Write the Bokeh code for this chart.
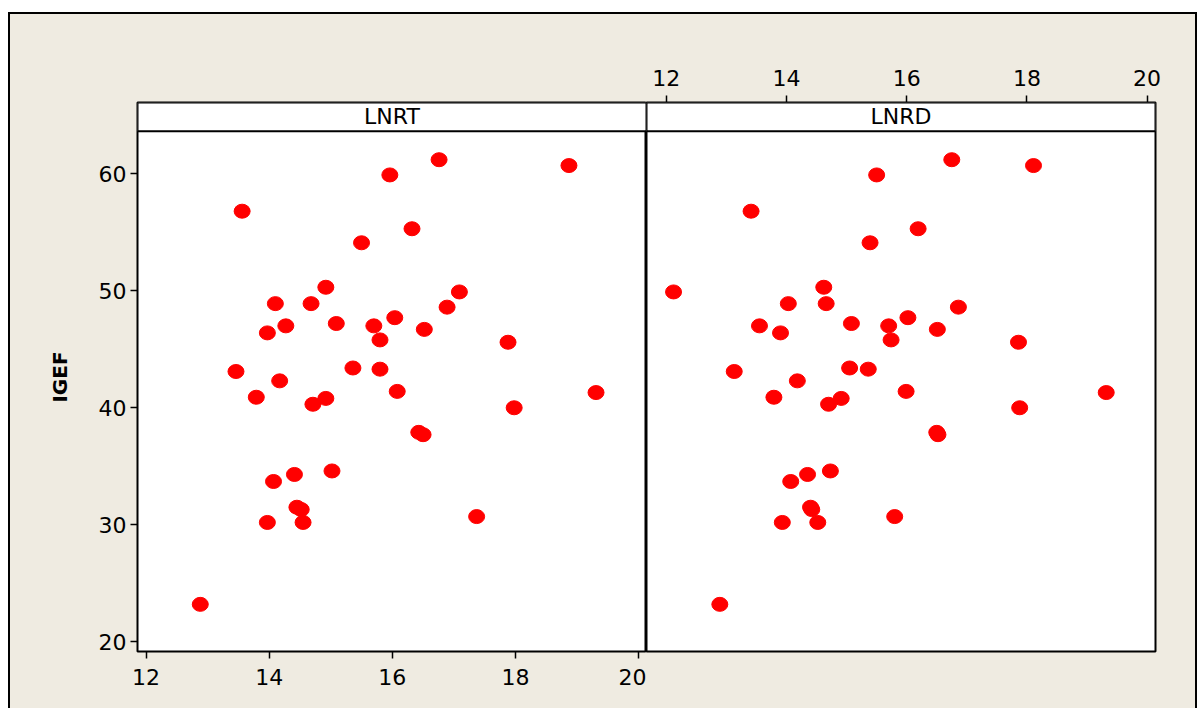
from bokeh.plotting import figure
from bokeh.layouts import row
from bokeh.models import BoxAnnotation, Label, Range1d, FixedTicker
from bokeh.embed import file_html
from bokeh.resources import INLINE

# ---- data ----
IGEF = [59.9, 61.2, 60.7, 56.8, 55.3, 54.1, 50.3, 49.9, 48.9, 48.9,
        48.6, 47.7, 47.2, 47.0, 47.0, 46.7, 46.4, 45.8, 45.6, 43.4,
        43.3, 43.1, 42.3, 41.4, 41.3, 40.9, 40.8, 40.3, 40.0, 37.9,
        37.7, 34.6, 34.3, 33.7, 31.5, 31.3, 30.7, 30.2, 30.2, 23.2]
LNRT = [15.96, 16.76, 18.87, 13.56, 16.32, 15.50, 14.92, 17.09, 14.10, 14.68,
        16.89, 16.04, 15.09, 14.27, 15.70, 16.52, 13.97, 15.80, 17.88, 15.36,
        15.80, 13.46, 14.17, 16.08, 19.31, 13.79, 14.92, 14.71, 17.98, 16.43,
        16.50, 15.02, 14.41, 14.07, 14.45, 14.52, 17.37, 13.97, 14.55, 12.88]
LNRD = [15.50, 16.75, 18.11, 13.41, 16.19, 15.39, 14.62, 12.12, 14.03, 14.66,
        16.86, 16.02, 15.08, 13.55, 15.70, 16.51, 13.90, 15.74, 17.86, 15.05,
        15.36, 13.13, 14.18, 15.99, 19.32, 13.79, 14.91, 14.70, 17.88, 16.50,
        16.52, 14.73, 14.35, 14.07, 14.40, 14.42, 15.80, 13.93, 14.52, 12.89]
x_ticks = [12, 14, 16, 18, 20]
y_ticks = [20, 30, 40, 50, 60]
panel_names = ["LNRT", "LNRD"]
y_label = "IGEF"

BEIGE = "#EFEBE1"
FONT = "DejaVu Sans"
FS = "22px"

Y_LO, Y_HI = 19.17, 66.09
STRIP_BOTTOM = 63.64
y_range = Range1d(Y_LO, Y_HI)


def make_panel(xvals, name, xr, width, min_left, min_right, x_loc, y_loc):
    p = figure(width=width, height=694, x_range=xr, y_range=y_range,
               output_backend="svg", toolbar_location=None,
               min_border_left=min_left, min_border_right=min_right,
               min_border_top=88, min_border_bottom=57,
               x_axis_location=x_loc, y_axis_location=y_loc)
    p.background_fill_color = "white"
    p.border_fill_color = BEIGE
    p.outline_line_color = "black"
    p.outline_line_width = 2
    p.xgrid.visible = False
    p.ygrid.visible = False
    for ax in p.axis:
        ax.axis_line_color = None
        ax.minor_tick_line_color = None
        ax.major_tick_line_color = "black"
        ax.major_tick_line_width = 1.5
        ax.major_tick_in = 0
        ax.major_tick_out = 7
        ax.major_label_text_font = FONT
        ax.major_label_text_font_size = FS
        ax.major_label_text_color = "black"
    p.xaxis.ticker = FixedTicker(ticks=x_ticks)
    p.xaxis.major_label_standoff = 10
    if y_loc is not None:
        p.yaxis.ticker = FixedTicker(ticks=y_ticks)
        p.yaxis.major_label_standoff = 4
        p.yaxis.axis_label = y_label
        p.yaxis.axis_label_text_font = FONT
        p.yaxis.axis_label_text_font_style = "bold"
        p.yaxis.axis_label_text_font_size = "20px"
        p.yaxis.axis_label_text_color = "black"
        p.yaxis.axis_label_standoff = 24

    strip = BoxAnnotation(bottom=STRIP_BOTTOM, fill_color="white", fill_alpha=1.0,
                          line_color="black", line_alpha=1.0, line_width=2)
    p.add_layout(strip)
    p.add_layout(Label(x=(xr.start + xr.end) / 2, y=(STRIP_BOTTOM + Y_HI) / 2,
                       text=name, text_align="center", text_baseline="middle",
                       text_font=FONT, text_font_size=FS, text_color="black"))

    p.ellipse(x=xvals, y=IGEF, width=16, height=14,
              width_units="screen", height_units="screen",
              fill_color="#FF0000", line_color="#FF0000")
    return p


p1 = make_panel(LNRT, panel_names[0], Range1d(11.86, 20.13), 636, 127, 0, "below", "left")
p2 = make_panel(LNRD, panel_names[1], Range1d(11.67, 20.14), 549, 0, 40, "above", None)

layout = row(p1, p2, styles={"border-left": "2px solid black",
                             "border-top": "2px solid black",
                             "border-right": "2px solid black",
                             "background-color": BEIGE,
                             "margin-top": "12px",
                             "margin-left": "8px"})

open("out.html", "w").write(file_html(layout, INLINE))
